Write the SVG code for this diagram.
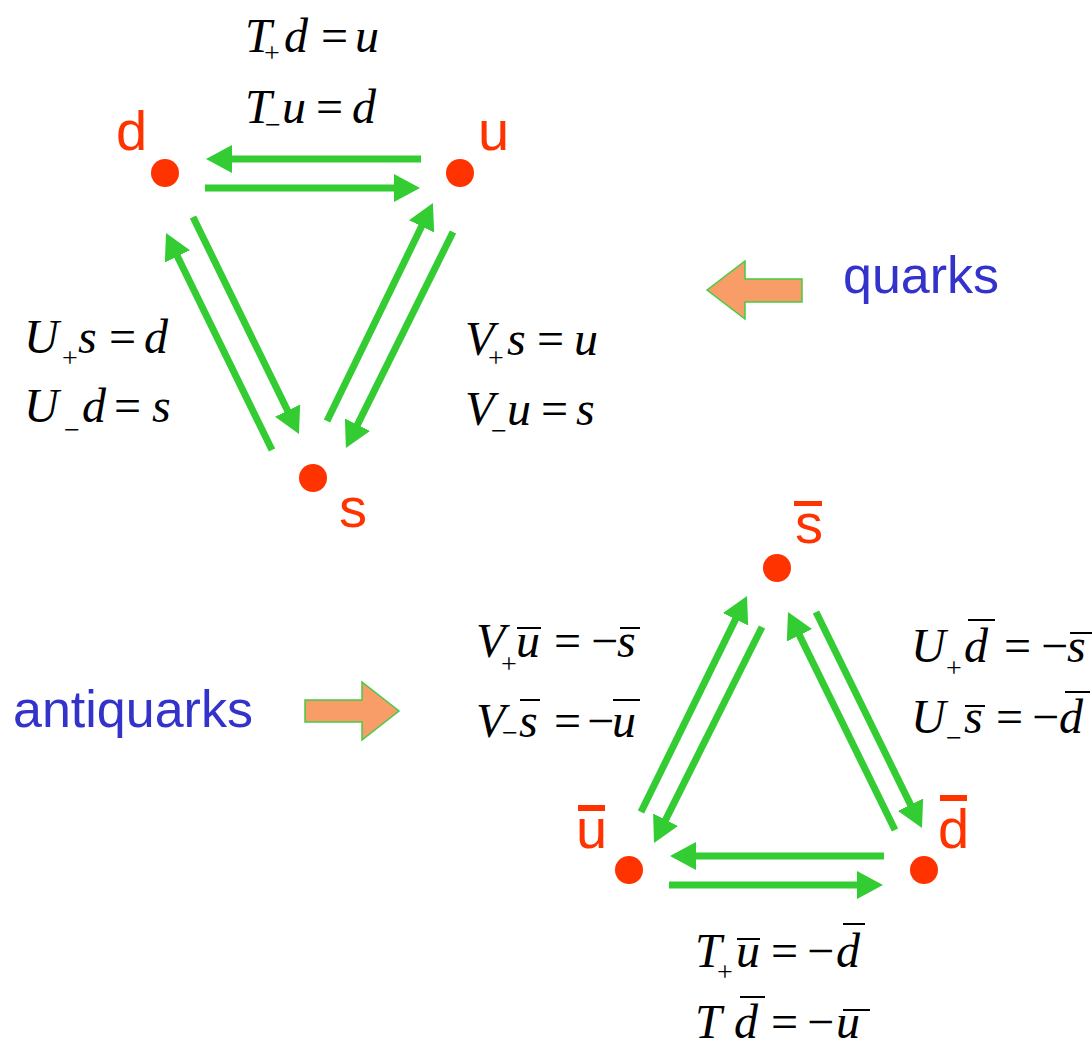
<svg xmlns="http://www.w3.org/2000/svg" width="1092" height="1042" viewBox="0 0 1092 1042">
<defs>
<marker id="ah" viewBox="0 0 26 28" refX="1" refY="14" markerWidth="26" markerHeight="28" markerUnits="userSpaceOnUse" orient="auto">
<path d="M0,0 L26,14 L0,28 z" fill="#33cc33"/>
</marker>
<style>
.conn line{stroke:#33cc33;stroke-width:7;marker-end:url(#ah)}
.dot{fill:#ff3300}
.lbl{font-family:"Liberation Sans",Arial,sans-serif;font-size:56px;fill:#ff3300}
.bar{fill:#ff3300}
.eq{font-family:"Liberation Serif","Times New Roman",serif;font-size:48px;font-style:italic;fill:#000}
.up{font-style:normal}
.sub{font-family:"Liberation Serif","Times New Roman",serif;font-size:28px;font-style:normal;fill:#000}
.ob{stroke:#000;stroke-width:2}
.word{font-family:"Liberation Sans",Arial,sans-serif;font-size:52px;fill:#3333cc}
.block{fill:#f89c68;stroke:#44cc44;stroke-width:1.5}
</style>
</defs>
<rect width="1092" height="1042" fill="#ffffff"/>

<g id="connectors" class="conn">
<line x1="421" y1="159" x2="231" y2="159"/>
<line x1="205" y1="188" x2="395" y2="188"/>
<line x1="193" y1="217" x2="288" y2="411.5"/>
<line x1="272" y1="450" x2="177" y2="255.5"/>
<line x1="327" y1="421" x2="422" y2="225.5"/>
<line x1="453" y1="232" x2="357" y2="425.6"/>
<line x1="669" y1="885" x2="858" y2="885"/>
<line x1="884" y1="856" x2="695" y2="856"/>
<line x1="641" y1="812" x2="736" y2="618.4"/>
<line x1="762" y1="627" x2="665.2" y2="820.6"/>
<line x1="895" y1="830" x2="799" y2="634.4"/>
<line x1="816" y1="612" x2="911" y2="805.6"/>
</g>

<g id="node-d">
<circle class="dot" cx="165" cy="173" r="14"/>
<text class="lbl" x="116" y="150">d</text>
</g>
<g id="node-u">
<circle class="dot" cx="460" cy="173" r="14"/>
<text class="lbl" x="478" y="150">u</text>
</g>
<g id="node-s">
<circle class="dot" cx="313" cy="478" r="14"/>
<text class="lbl" x="339" y="527">s</text>
</g>
<g id="node-sbar">
<circle class="dot" cx="777" cy="568" r="14"/>
<text class="lbl" x="795" y="543">s</text>
<rect class="bar" x="794" y="501" width="28" height="5"/>
</g>
<g id="node-ubar">
<circle class="dot" cx="629" cy="870" r="14"/>
<text class="lbl" x="576" y="848">u</text>
<rect class="bar" x="578" y="805" width="27" height="6"/>
</g>
<g id="node-dbar">
<circle class="dot" cx="924" cy="870" r="14"/>
<text class="lbl" x="938" y="848">d</text>
<rect class="bar" x="940" y="795" width="27" height="6"/>
</g>

<g id="eq-T">
<text class="eq"><tspan x="245" y="52">T</tspan><tspan x="284" y="52">d</tspan><tspan class="up" x="321" y="52">=</tspan><tspan x="355" y="52">u</tspan></text>
<text class="sub" x="264" y="62">+</text>
<text class="eq"><tspan x="245" y="123">T</tspan><tspan x="282" y="123">u</tspan><tspan class="up" x="316" y="123">=</tspan><tspan x="352" y="123">d</tspan></text>
<text class="sub" x="265" y="134">−</text>
</g>

<g id="eq-U">
<text class="eq"><tspan x="24" y="353">U</tspan><tspan x="78" y="353">s</tspan><tspan class="up" x="109" y="353">=</tspan><tspan x="144" y="353">d</tspan></text>
<text class="sub" x="62" y="367">+</text>
<text class="eq"><tspan x="24" y="422">U</tspan><tspan x="82" y="422">d</tspan><tspan class="up" x="114" y="422">=</tspan><tspan x="152" y="422">s</tspan></text>
<text class="sub" x="64" y="439">−</text>
</g>

<g id="eq-V">
<text class="eq"><tspan x="465" y="355">V</tspan><tspan x="507" y="355">s</tspan><tspan class="up" x="537" y="355">=</tspan><tspan x="574" y="355">u</tspan></text>
<text class="sub" x="488" y="367">+</text>
<text class="eq"><tspan x="465" y="425">V</tspan><tspan x="507" y="425">u</tspan><tspan class="up" x="541" y="425">=</tspan><tspan x="576" y="425">s</tspan></text>
<text class="sub" x="491" y="440">−</text>
</g>

<g id="eq-Vbar">
<text class="eq"><tspan x="476" y="657">V</tspan><tspan x="516" y="657">u</tspan><tspan class="up" x="554" y="657">=</tspan><tspan class="up" x="591" y="657">−</tspan><tspan x="617" y="657">s</tspan></text>
<text class="sub" x="501" y="673">+</text>
<line class="ob" x1="517" y1="628" x2="541" y2="628"/>
<line class="ob" x1="620" y1="628" x2="640" y2="628"/>
<text class="eq"><tspan x="476" y="737">V</tspan><tspan x="519" y="737">s</tspan><tspan class="up" x="554" y="737">=</tspan><tspan class="up" x="587" y="737">−</tspan><tspan x="612" y="737">u</tspan></text>
<text class="sub" x="502" y="742">−</text>
<line class="ob" x1="520" y1="700" x2="540" y2="700"/>
<line class="ob" x1="613" y1="700" x2="640" y2="700"/>
</g>

<g id="eq-Ubar">
<text class="eq"><tspan x="911" y="662">U</tspan><tspan x="964" y="662">d</tspan><tspan class="up" x="1004" y="662">=</tspan><tspan class="up" x="1041" y="662">−</tspan><tspan x="1067" y="662">s</tspan></text>
<text class="sub" x="946" y="677">+</text>
<line class="ob" x1="968" y1="620" x2="995" y2="620"/>
<line class="ob" x1="1070" y1="633" x2="1092" y2="633"/>
<text class="eq"><tspan x="911" y="733">U</tspan><tspan x="964" y="733">s</tspan><tspan class="up" x="996" y="733">=</tspan><tspan class="up" x="1032" y="733">−</tspan><tspan x="1059" y="733">d</tspan></text>
<text class="sub" x="946" y="747">−</text>
<line class="ob" x1="965" y1="706" x2="985" y2="706"/>
<line class="ob" x1="1065" y1="692" x2="1090" y2="692"/>
</g>

<g id="eq-Tbar">
<text class="eq"><tspan x="695" y="967">T</tspan><tspan x="736" y="967">u</tspan><tspan class="up" x="771" y="967">=</tspan><tspan class="up" x="807" y="967">−</tspan><tspan x="836" y="967">d</tspan></text>
<text class="sub" x="717" y="981">+</text>
<line class="ob" x1="737" y1="939" x2="760" y2="939"/>
<line class="ob" x1="843" y1="924" x2="865" y2="924"/>
<text class="eq"><tspan x="695" y="1038">T</tspan><tspan x="734" y="1038">d</tspan><tspan class="up" x="771" y="1038">=</tspan><tspan class="up" x="807" y="1038">−</tspan><tspan x="836" y="1038">u</tspan></text>
<line class="ob" x1="740" y1="997" x2="765" y2="997"/>
<line class="ob" x1="843" y1="1010" x2="870" y2="1010"/>
</g>

<g id="quarks">
<polygon class="block" points="707,290 745,261 745,279 802,279 802,302 745,302 745,319"/>
<text class="word" x="843" y="293">quarks</text>
</g>
<g id="antiquarks">
<polygon class="block" points="305,700 362,700 362,682 399,711 362,740 362,722 305,722"/>
<text class="word" x="13" y="727">antiquarks</text>
</g>
</svg>
